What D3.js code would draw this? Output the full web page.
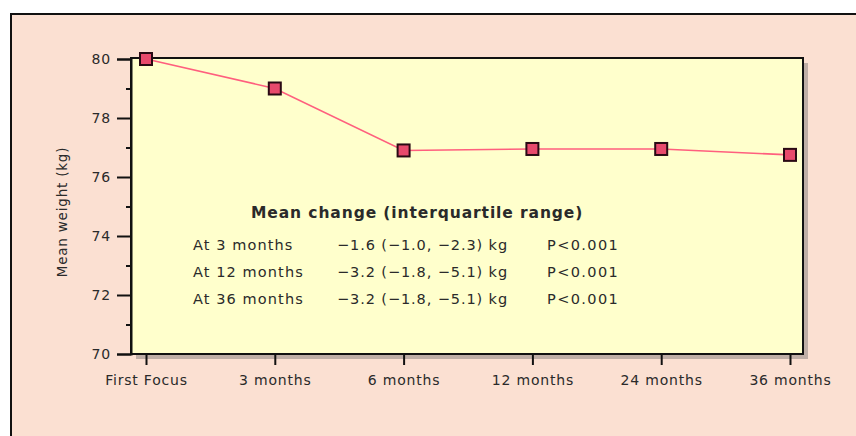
<!DOCTYPE html>
<html>
<head>
<meta charset="utf-8">
<script src="https://cdn.jsdelivr.net/npm/d3@7"></script>
<style>
  body { margin: 0; background: #fff; }
  text { font-family: "DejaVu Sans", sans-serif; fill: #2a2a2a; }
</style>
</head>
<body>
<svg id="chart" width="856" height="436"></svg>
<script>
var categories = ["First Focus", "3 months", "6 months", "12 months", "24 months", "36 months"];
var weights = [80, 79, 76.9, 76.95, 76.95, 76.75];
var majorTicks = [70, 72, 74, 76, 78, 80];
var minorTicks = [71, 73, 75, 77, 79];
var summaryTitle = "Mean change (interquartile range)";
var summaryLabels = ["At 3 months", "At 12 months", "At 36 months"];
var summaryChanges = ["\u22121.6 (\u22121.0, \u22122.3) kg", "\u22123.2 (\u22121.8, \u22125.1) kg", "\u22123.2 (\u22121.8, \u22125.1) kg"];
var summaryP = ["P<0.001", "P<0.001", "P<0.001"];

var svg = d3.select("#chart");

// outer panel
svg.append("rect")
    .attr("x", 11).attr("y", 14)
    .attr("width", 850).attr("height", 430)
    .attr("fill", "#fbe0d2")
    .attr("stroke", "#111")
    .attr("stroke-width", 2);

var plotL = 131, plotR = 803, plotT = 58, plotB = 354;

var x = d3.scalePoint().domain(categories).range([146, 790]);
var y = d3.scaleLinear().domain([70, 80]).range([plotB, 59]);

// shadow + plot area
svg.append("rect")
    .attr("x", plotL + 5).attr("y", plotT + 5)
    .attr("width", plotR - plotL).attr("height", plotB - plotT)
    .attr("fill", "#bfaea6");
svg.append("rect")
    .attr("x", plotL).attr("y", plotT)
    .attr("width", plotR - plotL).attr("height", plotB - plotT)
    .attr("fill", "#ffffcc")
    .attr("stroke", "#111")
    .attr("stroke-width", 2);

// y axis
svg.append("g")
    .attr("transform", "translate(" + plotL + ",0)")
    .call(d3.axisLeft(y).tickValues(majorTicks).tickSize(14).tickPadding(6).tickFormat(d3.format("d")));
svg.append("g")
    .attr("transform", "translate(" + plotL + ",0)")
    .call(d3.axisLeft(y).tickValues(minorTicks).tickSize(5).tickFormat(""))
    .call(function (g) { g.select(".domain").remove(); });

// x axis
var xAxis = svg.append("g")
    .attr("transform", "translate(0," + plotB + ")")
    .call(d3.axisBottom(x).tickSize(11).tickPadding(10));
xAxis.select(".domain").remove();

svg.selectAll(".tick line").attr("stroke", "#111").attr("stroke-width", 2);
svg.selectAll(".domain").attr("stroke", "#111").attr("stroke-width", 2);
svg.selectAll(".tick text")
    .attr("font-size", 14)
    .attr("letter-spacing", 0.8)
    .attr("fill", "#3a3a3a");

// y title
svg.append("text")
    .attr("transform", "translate(67,212) rotate(-90)")
    .attr("text-anchor", "middle")
    .attr("font-size", 13.5)
    .attr("letter-spacing", 0.8)
    .attr("fill", "#3a3a3a")
    .text("Mean weight (kg)");

// line + markers
var line = d3.line()
    .x(function (d, i) { return x(categories[i]); })
    .y(function (d) { return y(d); });

svg.append("path")
    .datum(weights)
    .attr("d", line)
    .attr("fill", "none")
    .attr("stroke", "#ff5f7e")
    .attr("stroke-width", 1.6);

svg.selectAll(".marker")
    .data(weights)
    .enter().append("rect")
    .attr("class", "marker")
    .attr("x", function (d, i) { return x(categories[i]) - 6; })
    .attr("y", function (d) { return y(d) - 6; })
    .attr("width", 12).attr("height", 12)
    .attr("fill", "#e84a6c")
    .attr("stroke", "#2a0a14")
    .attr("stroke-width", 2);

// summary table
svg.append("text")
    .attr("x", 251).attr("y", 218)
    .attr("font-size", 15.5)
    .attr("font-weight", "bold")
    .attr("letter-spacing", 0.9)
    .attr("fill", "#111")
    .text(summaryTitle);

var rows = svg.selectAll(".row")
    .data(summaryLabels)
    .enter().append("g")
    .attr("class", "row")
    .attr("transform", function (d, i) { return "translate(0," + (250 + i * 27) + ")"; });

rows.append("text").attr("x", 193).attr("font-size", 14.5).attr("letter-spacing", 1.1)
    .text(function (d) { return d; });
rows.append("text").attr("x", 337).attr("font-size", 14.5).attr("letter-spacing", 0.9)
    .text(function (d, i) { return summaryChanges[i]; });
rows.append("text").attr("x", 547).attr("font-size", 14.5).attr("letter-spacing", 1.4)
    .text(function (d, i) { return summaryP[i]; });
</script>
</body>
</html>
